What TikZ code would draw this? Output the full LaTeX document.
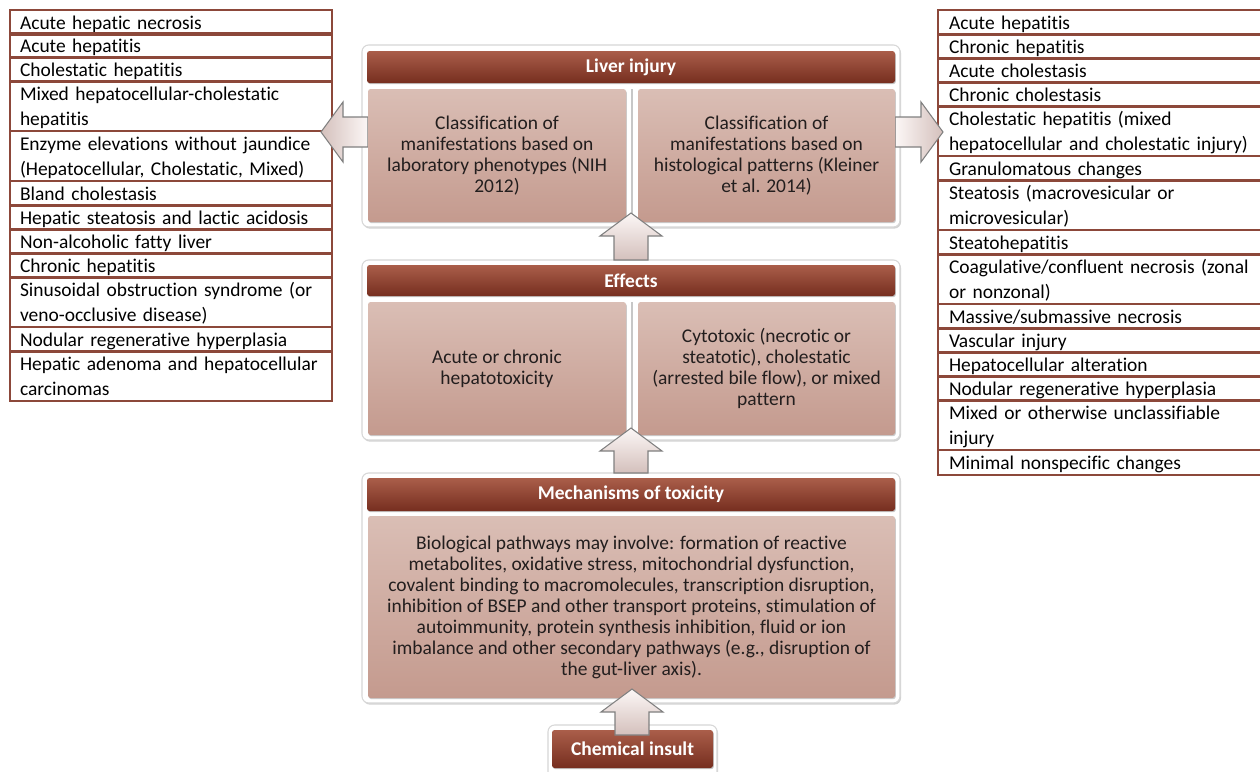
\documentclass[tikz,border=0pt]{standalone}
\usepackage{fontspec}
\setmainfont{Carlito}[Ligatures={NoCommon,NoContextual}, Contextuals=NoAlternate]
\usetikzlibrary{shadows}
\definecolor{tabline}{RGB}{140,72,58}
\definecolor{hdtop}{RGB}{170,94,74}
\definecolor{hdbot}{RGB}{118,46,31}
\definecolor{pntop}{RGB}{218,190,181}
\definecolor{pnbot}{RGB}{196,154,142}
\definecolor{txt}{RGB}{35,30,30}
\definecolor{arrA}{RGB}{252,247,246}
\definecolor{arrB}{RGB}{212,192,188}
\definecolor{arrline}{RGB}{128,128,128}
\definecolor{outline}{RGB}{215,215,215}
\newcommand\rowstrut{\rule[-4.5pt]{0pt}{18.75pt}}
\newcommand\upblock[3]{%
  \path[blockarrow, top color=arrA, bottom color=arrB]
    (#1,#2) -- (#1+31,#2+23) -- (#1+17,#2+23) -- (#1+17,#3) -- (#1-17,#3)
    -- (#1-17,#2+23) -- (#1-31,#2+23) -- cycle;}
\tikzset{
  boxw/.style={minimum width=#1*0.75pt},
  boxh/.style={minimum height=#1*0.75pt},
  nw/.style={inner sep=0pt, outer sep=0pt, anchor=north west},
  trow/.style={nw, draw=tabline, line width=1.1pt, boxh=#1,
    align=left, font=\fontsize{14.6pt}{18.75pt}\selectfont,
    execute at begin node=\rowstrut, execute at end node=\rowstrut},
  lrow/.style={trow=#1, text width=226.5pt, inner xsep=7.5pt},
  rrow/.style={trow=#1, text width=246pt, inner xsep=8.25pt},
  outerbox/.style={nw, draw=outline, line width=0.8pt, fill=white, rounded corners=5pt,
    drop shadow={shadow xshift=0.8pt, shadow yshift=-1.2pt, opacity=0.35}},
  header/.style={nw, rounded corners=2pt, top color=hdtop, bottom color=hdbot, draw=none,
    text=white, font=\fontsize{14.6pt}{15.75pt}\selectfont\bfseries,
    drop shadow={shadow xshift=0.6pt, shadow yshift=-0.9pt, opacity=0.45}},
  panel/.style={nw, rounded corners=2pt, top color=pntop, bottom color=pnbot, draw=none,
    text=txt, align=center, font=\fontsize{14.6pt}{15.75pt}\selectfont,
    drop shadow={shadow xshift=0.6pt, shadow yshift=-0.9pt, opacity=0.4}},
  blockarrow/.style={draw=arrline, line width=0.8pt, line join=miter},
  gapline/.style={draw=black!22, line width=1.2pt},
}
\begin{document}
\begin{tikzpicture}[x=0.75pt,y=-0.75pt]
\fill[white] (0,0) rectangle (1260,771);
\useasboundingbox (0,0) rectangle (1260,771);

% ---------- left table ----------
\node[lrow=23] (l1) at (10,10) {Acute hepatic necrosis};
\node[lrow=24] (l2) at (10,33) {Acute hepatitis};
\node[lrow=24] (l3) at (10,57) {Cholestatic hepatitis};
\node[lrow=50] (l4) at (10,81) {Mixed hepatocellular-cholestatic\\hepatitis};
\node[lrow=50] (l5) at (10,131) {\makebox[215pt][s]{Enzyme elevations without jaundice}\\(Hepatocellular, Cholestatic, Mixed)};
\node[lrow=24] (l6) at (10,181) {Bland cholestasis};
\node[lrow=24] (l7) at (10,205) {Hepatic steatosis and lactic acidosis};
\node[lrow=24] (l8) at (10,229) {Non-alcoholic fatty liver};
\node[lrow=24] (l9) at (10,253) {Chronic hepatitis};
\node[lrow=50] (l10) at (10,277) {Sinusoidal obstruction syndrome (or\\veno-occlusive disease)};
\node[lrow=24] (l11) at (10,327) {Nodular regenerative hyperplasia};
\node[lrow=50] (l12) at (10,351) {Hepatic adenoma and hepatocellular\\carcinomas};

% ---------- right table ----------
\node[rrow=24] (r1) at (938,10) {Acute hepatitis};
\node[rrow=24] (r2) at (938,34) {Chronic hepatitis};
\node[rrow=24] (r3) at (938,58) {Acute cholestasis};
\node[rrow=24] (r4) at (938,82) {Chronic cholestasis};
\node[rrow=50] (r5) at (938,106) {Cholestatic hepatitis (mixed\\hepatocellular and cholestatic injury)};
\node[rrow=24] (r6) at (938,156) {Granulomatous changes};
\node[rrow=50] (r7) at (938,180) {Steatosis (macrovesicular or\\microvesicular)};
\node[rrow=24] (r8) at (938,230) {Steatohepatitis};
\node[rrow=50] (r9) at (938,254) {Coagulative/confluent necrosis (zonal\\or nonzonal)};
\node[rrow=24] (r10) at (938,304) {Massive/submassive necrosis};
\node[rrow=24] (r11) at (938,328) {Vascular injury};
\node[rrow=24] (r12) at (938,352) {Hepatocellular alteration};
\node[rrow=24] (r13) at (938,376) {Nodular regenerative hyperplasia};
\node[rrow=50] (r14) at (938,400) {Mixed or otherwise unclassifiable\\injury};
\node[rrow=24] (r15) at (938,450) {Minimal nonspecific changes};

% ---------- outer white boxes ----------
\node[outerbox, boxw=538, boxh=182] (liver) at (362,45) {};
\node[outerbox, boxw=538, boxh=180] (effects) at (362,260) {};
\node[outerbox, boxw=538, boxh=230] (mech) at (362,473) {};
\node[outerbox, boxw=169, boxh=60] (chem) at (548,725) {};

% ---------- side block arrows ----------
\path[blockarrow, left color=arrB, right color=arrA]
  (321,132) -- (343,102) -- (343,117) -- (368,117) -- (368,147) -- (343,147) -- (343,162) -- cycle;
\path[blockarrow, left color=arrA, right color=arrB]
  (943,132) -- (921,102) -- (921,117) -- (895,117) -- (895,147) -- (921,147) -- (921,162) -- cycle;

% ---------- liver injury ----------
\node[header, boxw=528, boxh=32] (liverh) at (367,51) {Liver injury};
\draw[gapline] (632,89) -- (632,222);
\node[panel, boxw=258, boxh=133] (lab) at (368,89)
  {Classification of\\manifestations based on\\laboratory phenotypes (NIH\\2012)};
\node[panel, boxw=257, boxh=133] (hist) at (638,89)
  {Classification of\\manifestations based on\\histological patterns (Kleiner\\et al. 2014)};

% ---------- effects ----------
\node[header, boxw=528, boxh=31] (effh) at (367,265) {Effects};
\draw[gapline] (632,302) -- (632,435);
\node[panel, boxw=258, boxh=133] (acute) at (368,302) {Acute or chronic\\hepatotoxicity};
\node[panel, boxw=257, boxh=133] (cyto) at (638,302)
  {Cytotoxic (necrotic or\\steatotic), cholestatic\\(arrested bile flow), or mixed\\pattern};

% ---------- mechanisms ----------
\node[header, boxw=528, boxh=33] (mechh) at (367,478) {Mechanisms of toxicity};
\node[panel, boxw=527, boxh=182] (bio) at (368,516)
  {Biological pathways may involve: formation of reactive\\
   metabolites, oxidative stress, mitochondrial dysfunction,\\
   covalent binding to macromolecules, transcription disruption,\\
   inhibition of BSEP and other transport proteins, stimulation of\\
   autoimmunity, protein synthesis inhibition, fluid or ion\\
   imbalance and other secondary pathways (e.g., disruption of\\
   the gut-liver axis).};

% ---------- chemical insult ----------
\node[header, boxw=161, boxh=38] (chemh) at (552,730) {Chemical insult};

% ---------- upward block arrows ----------
\upblock{631}{213}{260}
\upblock{631}{428}{473}
\upblock{632}{689}{735}
\end{tikzpicture}
\end{document}
